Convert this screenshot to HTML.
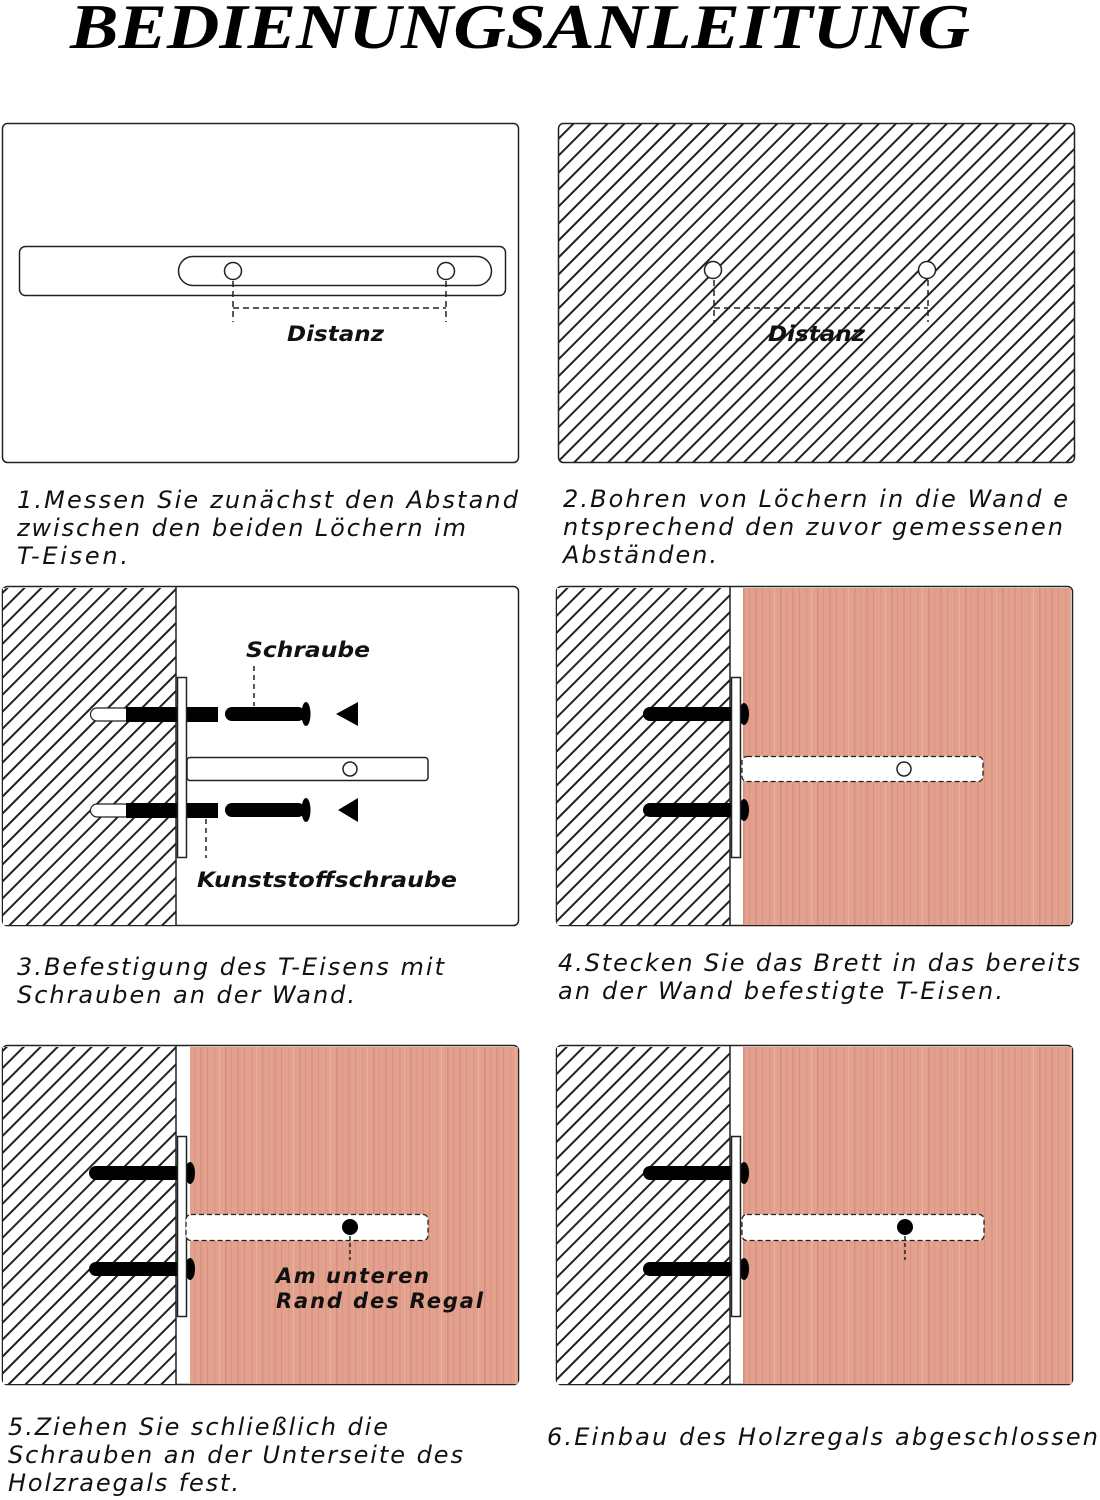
<!DOCTYPE html>
<html><head><meta charset="utf-8"><style>
html,body{margin:0;padding:0;background:#fff;}
svg{display:block;}
.cap{font-family:"DejaVu Sans","Liberation Sans",sans-serif;font-style:italic;font-size:24px;fill:#111;}
.lbl{font-family:"DejaVu Sans","Liberation Sans",sans-serif;font-style:italic;font-weight:bold;font-size:21px;fill:#111;}
</style></head><body>
<svg width="1100" height="1500" viewBox="0 0 1100 1500" xmlns="http://www.w3.org/2000/svg">
<defs>
<pattern id="h" patternUnits="userSpaceOnUse" width="12" height="12" patternTransform="rotate(45)">
<rect width="12" height="12" fill="#fff"/><rect x="0" y="0" width="2" height="12" fill="#222"/>
</pattern>
<pattern id="w" patternUnits="userSpaceOnUse" width="37" height="300">
<rect width="37" height="300" fill="#e3a08c"/>
<rect x="3" width="1.5" height="300" fill="#c98677" opacity=".6"/>
<rect x="9" width="1" height="300" fill="#d08b7c" opacity=".5"/>
<rect x="15" width="2" height="300" fill="#cf8a7a" opacity=".45"/>
<rect x="22" width="1" height="300" fill="#c78476" opacity=".5"/>
<rect x="29" width="1.5" height="300" fill="#d39080" opacity=".5"/>
<rect x="34" width="1" height="300" fill="#eebcaa" opacity=".6"/>
</pattern>
</defs>
<rect width="1100" height="1500" fill="#fff"/>
<text x="70" y="48" font-family="Liberation Serif,serif" font-weight="bold" font-style="italic" font-size="64" textLength="900" lengthAdjust="spacingAndGlyphs" fill="#000">BEDIENUNGSANLEITUNG</text>

<rect x="2.5" y="123.5" width="516" height="339" rx="5" fill="#fff" stroke="#222" stroke-width="1.5"/>
<rect x="19.5" y="246.5" width="486" height="49" rx="6" fill="#fff" stroke="#222" stroke-width="1.5"/>
<rect x="178.5" y="256.5" width="313" height="29" rx="14.5" fill="#fff" stroke="#222" stroke-width="1.5"/>
<circle cx="233" cy="271" r="8.5" fill="#fff" stroke="#222" stroke-width="1.5"/>
<circle cx="446" cy="271" r="8.5" fill="#fff" stroke="#222" stroke-width="1.5"/>
<g stroke="#222" stroke-width="1.5" stroke-dasharray="6,4" fill="none">
<line x1="233" y1="281" x2="233" y2="322"/><line x1="446" y1="281" x2="446" y2="322"/><line x1="233" y1="308" x2="446" y2="308"/></g>
<text x="287" y="341" class="lbl" textLength="97" lengthAdjust="spacingAndGlyphs">Distanz</text>

<rect x="558.5" y="123.5" width="516" height="339" rx="5" fill="url(#h)" stroke="#222" stroke-width="1.5"/>
<circle cx="713" cy="270" r="8.5" fill="#fff" stroke="#222" stroke-width="1.5"/>
<circle cx="927" cy="270" r="8.5" fill="#fff" stroke="#222" stroke-width="1.5"/>
<g stroke="#222" stroke-width="1.5" stroke-dasharray="6,4" fill="none">
<line x1="714" y1="280" x2="714" y2="322"/><line x1="928" y1="280" x2="928" y2="322"/><line x1="714" y1="308" x2="928" y2="308"/></g>
<text x="768" y="341" class="lbl" textLength="97" lengthAdjust="spacingAndGlyphs">Distanz</text>

<text class="cap" lengthAdjust="spacingAndGlyphs"><tspan x="17" y="508" textLength="501">1.Messen Sie zunächst den Abstand</tspan><tspan x="17" y="536" textLength="449">zwischen den beiden Löchern im</tspan><tspan x="17" y="564" textLength="111">T-Eisen.</tspan></text>
<text class="cap"><tspan x="563" y="507" textLength="505">2.Bohren von Löchern in die Wand e</tspan><tspan x="563" y="535" textLength="500">ntsprechend den zuvor gemessenen</tspan><tspan x="563" y="563" textLength="154">Abständen.</tspan></text>

<rect x="2.5" y="586.5" width="516" height="339" rx="5" fill="#fff" stroke="#222" stroke-width="1.5"/>
<path d="M3 588 H176 V925 H3 Z" fill="url(#h)"/>
<line x1="176" y1="587" x2="176" y2="925" stroke="#222" stroke-width="1.5"/>
<g>
<rect x="90.5" y="708" width="40" height="13" rx="6.5" fill="#fff" stroke="#222" stroke-width="1.2"/>
<rect x="126" y="707" width="92" height="15" fill="#000"/>
<rect x="90.5" y="804" width="40" height="13" rx="6.5" fill="#fff" stroke="#222" stroke-width="1.2"/>
<rect x="126" y="803" width="92" height="15" fill="#000"/>
<rect x="225" y="707" width="80" height="14" rx="7" fill="#000"/>
<ellipse cx="306" cy="714" rx="4.5" ry="12" fill="#000"/>
<rect x="225" y="803" width="80" height="14" rx="7" fill="#000"/>
<ellipse cx="306" cy="810" rx="4.5" ry="12" fill="#000"/>
<polygon points="336,714 358,702 358,726" fill="#000"/>
<polygon points="338,810 358,798 358,822" fill="#000"/>
</g>
<rect x="177.5" y="677.5" width="9" height="180" fill="#fff" stroke="#222" stroke-width="1.5"/>
<rect x="187" y="757.5" width="241" height="23" rx="3" fill="#fff" stroke="#222" stroke-width="1.5"/>
<circle cx="350" cy="769" r="7" fill="#fff" stroke="#222" stroke-width="1.5"/>
<g stroke="#222" stroke-width="1.5" stroke-dasharray="5,4"><line x1="254" y1="666" x2="254" y2="706"/><line x1="206" y1="819" x2="206" y2="858"/></g>
<text x="246" y="657" class="lbl" textLength="124" lengthAdjust="spacingAndGlyphs">Schraube</text>
<text x="197" y="887" class="lbl" textLength="260" lengthAdjust="spacingAndGlyphs">Kunststoffschraube</text>

<rect x="556.5" y="586.5" width="516" height="339" rx="5" fill="#fff" stroke="#222" stroke-width="1.5"/>
<path d="M557 588 H730 V925 H557 Z" fill="url(#h)"/>
<rect x="743" y="588" width="328" height="337" fill="url(#w)"/>
<line x1="730" y1="587" x2="730" y2="925" stroke="#222" stroke-width="1.5"/>
<rect x="643" y="707" width="100" height="14" rx="7" fill="#000"/>
<rect x="643" y="803" width="100" height="14" rx="7" fill="#000"/>
<ellipse cx="744" cy="714" rx="5" ry="11" fill="#000"/>
<ellipse cx="744" cy="810" rx="5" ry="11" fill="#000"/>
<rect x="731.5" y="677.5" width="9" height="180" fill="#fff" stroke="#222" stroke-width="1.5"/>
<rect x="742" y="756.5" width="241" height="25" rx="5" fill="#fff" stroke="#222" stroke-width="1.3" stroke-dasharray="5,3"/>
<circle cx="904" cy="769" r="7" fill="#fff" stroke="#222" stroke-width="1.5"/>

<text class="cap"><tspan x="17" y="975" textLength="427">3.Befestigung des T-Eisens mit</tspan><tspan x="17" y="1003" textLength="338">Schrauben an der Wand.</tspan></text>
<text class="cap"><tspan x="558" y="971" textLength="522">4.Stecken Sie das Brett in das bereits</tspan><tspan x="558" y="999" textLength="445">an der Wand befestigte T-Eisen.</tspan></text>

<rect x="2.5" y="1045.5" width="516" height="339" rx="5" fill="#fff" stroke="#222" stroke-width="1.5"/>
<path d="M3 1047 H176 V1384 H3 Z" fill="url(#h)"/>
<rect x="190" y="1047" width="328" height="337" fill="url(#w)"/>
<line x1="176" y1="1046" x2="176" y2="1384" stroke="#222" stroke-width="1.5"/>
<rect x="89" y="1166" width="100" height="14" rx="7" fill="#000"/>
<rect x="89" y="1262" width="100" height="14" rx="7" fill="#000"/>
<ellipse cx="190" cy="1173" rx="5" ry="11" fill="#000"/>
<ellipse cx="190" cy="1269" rx="5" ry="11" fill="#000"/>
<rect x="177.5" y="1136.5" width="9" height="180" fill="#fff" stroke="#222" stroke-width="1.5"/>
<rect x="186" y="1214.5" width="242" height="26" rx="5" fill="#fff" stroke="#222" stroke-width="1.3" stroke-dasharray="5,3"/>
<circle cx="350" cy="1227" r="8" fill="#000"/>
<line x1="350" y1="1236" x2="350" y2="1260" stroke="#222" stroke-width="1.5" stroke-dasharray="4,3"/>
<text class="lbl"><tspan x="276" y="1283" textLength="153">Am unteren</tspan><tspan x="276" y="1308" textLength="207">Rand des Regal</tspan></text>

<rect x="556.5" y="1045.5" width="516" height="339" rx="5" fill="#fff" stroke="#222" stroke-width="1.5"/>
<path d="M557 1047 H730 V1384 H557 Z" fill="url(#h)"/>
<rect x="743" y="1047" width="329" height="337" fill="url(#w)"/>
<line x1="730" y1="1046" x2="730" y2="1384" stroke="#222" stroke-width="1.5"/>
<rect x="643" y="1166" width="100" height="14" rx="7" fill="#000"/>
<rect x="643" y="1262" width="100" height="14" rx="7" fill="#000"/>
<ellipse cx="744" cy="1173" rx="5" ry="11" fill="#000"/>
<ellipse cx="744" cy="1269" rx="5" ry="11" fill="#000"/>
<rect x="731.5" y="1136.5" width="9" height="180" fill="#fff" stroke="#222" stroke-width="1.5"/>
<rect x="742" y="1214.5" width="242" height="26" rx="5" fill="#fff" stroke="#222" stroke-width="1.3" stroke-dasharray="5,3"/>
<circle cx="905" cy="1227" r="8" fill="#000"/>
<line x1="905" y1="1236" x2="905" y2="1260" stroke="#222" stroke-width="1.5" stroke-dasharray="4,3"/>

<text class="cap"><tspan x="8" y="1435" textLength="380">5.Ziehen Sie schließlich die</tspan><tspan x="8" y="1463" textLength="455">Schrauben an der Unterseite des</tspan><tspan x="8" y="1491" textLength="231">Holzraegals fest.</tspan></text>
<text class="cap"><tspan x="547" y="1445" textLength="551">6.Einbau des Holzregals abgeschlossen</tspan></text>
</svg>
</body></html>
